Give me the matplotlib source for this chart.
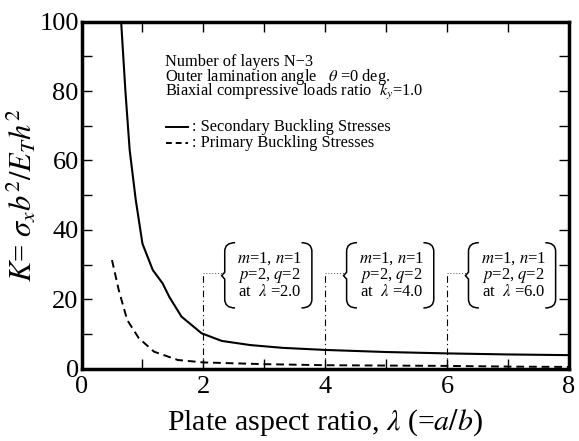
import numpy as np
import matplotlib.pyplot as plt
from matplotlib.path import Path
from matplotlib.patches import PathPatch

plt.rcParams['font.family'] = ['Liberation Serif', 'DejaVu Serif']
plt.rcParams['mathtext.fontset'] = 'stix'

# secondary buckling stress curve (solid)
lam_secondary = [0.65, 0.72, 0.79, 0.89, 1.0, 1.17, 1.33, 1.44, 1.64, 1.97, 2.3, 2.77, 3.3, 4.0, 5.0, 6.0, 7.0, 8.0]
k_secondary = [100, 80, 63, 48.6, 36, 28.4, 24.6, 20.7, 15, 10.2, 8.0, 6.8, 6.0, 5.4, 4.8, 4.4, 4.1, 3.9]

# primary buckling stress curve (dashed)
lam_primary = [0.5, 0.61, 0.75, 0.94, 1.19, 1.58, 2.0, 3.0, 4.0, 5.0, 6.0, 7.0, 8.0]
k_primary = [31.3, 22.7, 14, 8.8, 4.9, 2.5, 1.8, 1.3, 1.0, 0.9, 0.8, 0.6, 0.5]

# mode annotations
mode_lams = [2.0, 4.0, 6.0]
mode_labels = [r"$m$=1, $n$=1" + "\n" + r"$p$=2, $q$=2" + "\n" + r"at  $\lambda$ =%.1f" % l for l in mode_lams]

fig = plt.figure(figsize=(5.79, 4.41), dpi=100)
ax = fig.add_axes([0.1408, 0.164, 0.842, 0.787])

ax.plot(lam_secondary, k_secondary, color='black', lw=1.5)
ax.plot(lam_primary, k_primary, color='black', lw=1.4, ls=(0, (4, 2.5)))

mark_top = 27.6
for lam, label in zip(mode_lams, mode_labels):
    ax.plot([lam, lam], [0, mark_top], color='black', lw=0.8, ls=(0, (6, 3, 1, 3)))
    ax.plot([lam, lam + 0.33], [mark_top, mark_top], color='0.3', lw=0.7, ls=(0, (1, 2)))
    x0, x1 = lam + 0.35, lam + 1.78
    top, bot, mid = 36.3, 17.5, 26.8
    left = Path([(x0 + 0.17, top), (x0, top), (x0, top - 2.5),
                 (x0, mid + 1.0), (x0 - 0.05, mid), (x0, mid - 1.0),
                 (x0, bot + 2.5), (x0, bot), (x0 + 0.17, bot)],
                [Path.MOVETO, Path.CURVE3, Path.CURVE3,
                 Path.LINETO, Path.LINETO, Path.LINETO,
                 Path.LINETO, Path.CURVE3, Path.CURVE3])
    right = Path([(x1 - 0.17, top), (x1, top), (x1, top - 2.5),
                  (x1, bot + 2.5), (x1, bot), (x1 - 0.17, bot)],
                 [Path.MOVETO, Path.CURVE3, Path.CURVE3,
                  Path.LINETO, Path.CURVE3, Path.CURVE3])
    for p in (left, right):
        ax.add_patch(PathPatch(p, fill=False, lw=1.1, color='black'))
    ax.text((x0 + x1) / 2 + 0.02, (top + bot) / 2, label, ha='center', va='center',
            fontsize=12, linespacing=0.9)

# header notes and legend
info = ["Number of layers N\u22123",
        r"Outer lamination angle   $\theta$ =0 deg.",
        r"Biaxial compressive loads ratio  $k_y$=1.0"]
info_y = [88.5, 84.1, 79.6]
for s, y in zip(info, info_y):
    ax.text(1.37, y, s, fontsize=11.8, va='center')
ax.plot([1.38, 1.75], [69.6, 69.6], color='black', lw=1.4)
ax.plot([1.38, 1.75], [65.1, 65.1], color='black', lw=1.4, ls=(0, (3, 2)))
ax.text(1.81, 69.6, ": Secondary Buckling Stresses", fontsize=11.8, va='center')
ax.text(1.81, 65.1, ": Primary Buckling Stresses", fontsize=11.8, va='center')

ax.set_xlim(0, 8)
ax.set_ylim(0, 100)
ax.set_xticks([0, 2, 4, 6, 8])
ax.set_xticks([1, 3, 5, 7], minor=True)
ax.set_yticks([0, 20, 40, 60, 80, 100])
ax.set_yticks([10, 30, 50, 70, 90], minor=True)
ax.tick_params(which='both', direction='in', top=True, right=True, width=1.0,
               labelsize=19, pad=2)
ax.tick_params(axis='x', which='major', pad=5)
ax.tick_params(which='major', length=7)
ax.tick_params(which='minor', length=7)
for sp in ax.spines.values():
    sp.set_linewidth(2.5)

ax.set_xlabel(r"Plate aspect ratio, $\lambda$ (=$a/b$)", fontsize=21.5, labelpad=7)
ax.set_ylabel(r"$K$= $\sigma_x b^2/E_T h^2$", fontsize=22, labelpad=0)

fig.savefig("out.png", dpi=100)
